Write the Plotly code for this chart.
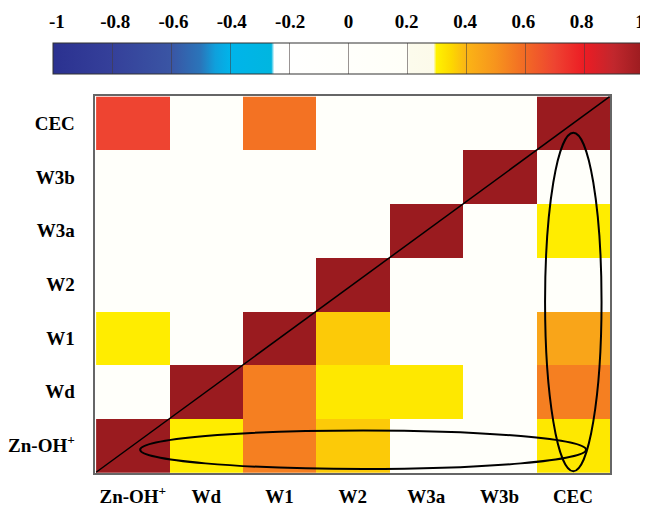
import plotly.graph_objects as go

categories = ["Zn-OH<sup>+</sup>", "Wd", "W1", "W2", "W3a", "W3b", "CEC"]

# correlation values, rows listed bottom (Zn-OH+) to top (CEC)
row_zn = [1.00, 0.31, 0.55, 0.37, 0.05, 0.10, 0.32]
row_wd = [0.10, 1.00, 0.55, 0.32, 0.32, 0.10, 0.55]
row_w1 = [0.31, 0.05, 1.00, 0.37, 0.05, 0.10, 0.45]
row_w2 = [0.05, 0.05, 0.05, 1.00, 0.05, 0.05, 0.10]
row_w3a = [0.05, 0.10, 0.05, 0.05, 1.00, 0.10, 0.31]
row_w3b = [0.05, 0.05, 0.05, 0.05, 0.10, 1.00, 0.05]
row_cec = [0.70, 0.10, 0.58, 0.05, 0.05, 0.10, 1.00]

cb_ticks = [-1, -0.8, -0.6, -0.4, -0.2, 0, 0.2, 0.4, 0.6, 0.8, 1]
cb_labels = ["-1", "-0.8", "-0.6", "-0.4", "-0.2", "0", "0.2", "0.4", "0.6", "0.8", "1"]

colorscale = [
    [0.000, "#2B3190"],
    [0.100, "#35409A"],
    [0.200, "#3A55A4"],
    [0.250, "#2A75BA"],
    [0.275, "#0FA0DC"],
    [0.300, "#00B4EA"],
    [0.370, "#00B6E0"],
    [0.375, "#FFFFFF"],
    [0.600, "#FFFFF8"],
    [0.605, "#FCFBEC"],
    [0.645, "#FCFAEA"],
    [0.650, "#FFF200"],
    [0.675, "#FDD800"],
    [0.700, "#FBB515"],
    [0.750, "#F7941D"],
    [0.800, "#F26A25"],
    [0.850, "#EE4431"],
    [0.900, "#EC1C24"],
    [0.950, "#C1272D"],
    [1.000, "#9A1B1F"],
]

z = [row_zn, row_wd, row_w1, row_w2, row_w3a, row_w3b, row_cec]
font_family = "Liberation Serif"

fig = go.Figure()
fig.add_trace(go.Heatmap(
    z=z, x=categories, y=categories,
    zmin=-1, zmax=1, colorscale=colorscale,
    hoverinfo="skip",
    colorbar=dict(
        orientation="h",
        lenmode="pixels", len=590,
        thickness=31, thicknessmode="pixels",
        x=0.5099, xanchor="center",
        y=0.9287, yanchor="top",
        xpad=0, ypad=0,
        outlinewidth=1, outlinecolor="#333333",
        tickmode="array", tickvals=cb_ticks[1:-1],
        ticks="inside", ticklen=31, tickwidth=1,
        tickcolor="rgba(70,60,60,0.55)",
        showticklabels=False,
    ),
))

# invisible trace that carries the colorbar's tick labels on a top axis
fig.add_trace(go.Scatter(
    x=cb_ticks, y=[0.5] * len(cb_ticks), xaxis="x2", yaxis="y2",
    mode="markers", marker=dict(opacity=0), hoverinfo="skip", showlegend=False,
))

n = len(categories)
lo, hi = -0.5, n - 0.5
fig.add_shape(type="line", x0=lo, y0=lo, x1=hi, y1=hi,
              xref="x", yref="y", line=dict(color="black", width=1.5))
# highlighted CEC column and Zn-OH+ row
fig.add_shape(type="circle", xref="x", yref="y",
              x0=5.62, x1=6.39, y0=-0.48, y1=5.83,
              line=dict(color="black", width=2))
fig.add_shape(type="circle", xref="x", yref="y",
              x0=0.10, x1=6.18, y0=-0.44, y1=0.28,
              line=dict(color="black", width=2))

tick_font = dict(family=font_family, size=19, color="black", weight="bold")

fig.update_layout(
    width=640, height=502,
    margin=dict(l=32, r=0, t=2, b=37),
    paper_bgcolor="white", plot_bgcolor="white",
    xaxis=dict(domain=[0.0888, 0.9457], showgrid=False, zeroline=False,
               showline=True, mirror=True, linecolor="#666666", linewidth=1.5,
               ticks="outside", ticklen=5, tickcolor="rgba(0,0,0,0)",
               tickfont=tick_font, fixedrange=True),
    yaxis=dict(domain=[0, 0.8143], showgrid=False, zeroline=False,
               showline=True, mirror=True, linecolor="#666666", linewidth=1.5,
               ticks="outside", ticklen=15, tickcolor="rgba(0,0,0,0)",
               tickfont=tick_font, fixedrange=True),
    xaxis2=dict(domain=[0.0247, 0.995], range=[-1, 1], anchor="y2", side="top",
                tickmode="array", tickvals=cb_ticks, ticktext=cb_labels,
                ticks="outside", ticklen=6, tickcolor="rgba(0,0,0,0)",
                ticklabeloverflow="allow",
                showgrid=False, zeroline=False, showline=False,
                tickfont=tick_font, fixedrange=True),
    yaxis2=dict(domain=[0.8617, 0.9287], range=[0, 1], anchor="x2",
                visible=False, fixedrange=True),
)

fig.write_html("out.html")
